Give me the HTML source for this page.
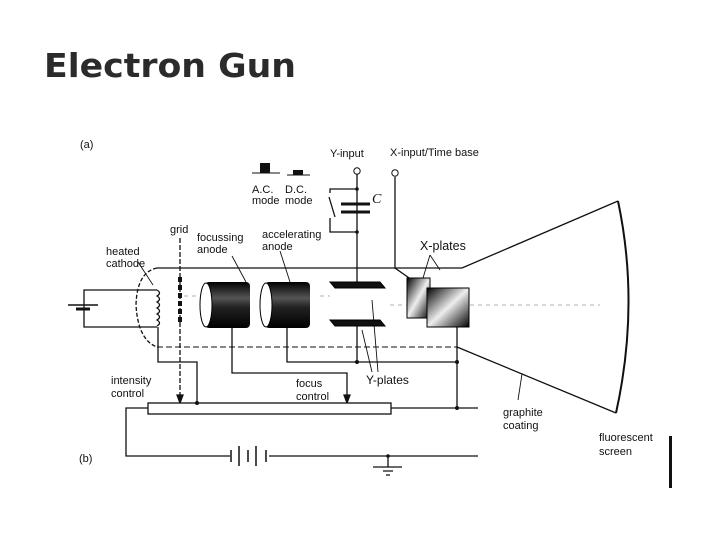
<!DOCTYPE html>
<html><head><meta charset="utf-8"><style>
html,body{margin:0;padding:0;background:#fff;width:720px;height:540px;overflow:hidden}
svg{display:block}
text{font-family:"Liberation Sans",sans-serif;fill:#111}
</style></head><body>
<svg width="720" height="540" viewBox="0 0 720 540" xmlns="http://www.w3.org/2000/svg">
<defs>
<linearGradient id="cyl" x1="0" y1="0" x2="0" y2="1">
<stop offset="0" stop-color="#000"/><stop offset="0.35" stop-color="#555"/><stop offset="0.55" stop-color="#222"/><stop offset="1" stop-color="#000"/></linearGradient>
<linearGradient id="xp" x1="0" y1="0" x2="1" y2="1">
<stop offset="0" stop-color="#000"/><stop offset="0.5" stop-color="#eee"/><stop offset="1" stop-color="#000"/></linearGradient>
</defs>
<text x="44" y="77" font-size="33" font-weight="bold" textLength="252" lengthAdjust="spacingAndGlyphs" style="fill:#2b2b2b;font-family:'DejaVu Sans','Liberation Sans',sans-serif">Electron Gun</text>
<g stroke="#111" fill="none" stroke-width="1.3">
<path d="M157 268 L462 268 L618 201"/>
<path d="M157 268 Q137 272 136 305 Q138 340 157 347" stroke-dasharray="4 2"/>
<path d="M157 347 L457 347" stroke-dasharray="6 3" stroke-width="1"/>
<path d="M457 347 L616 413"/>
<path d="M618 201 Q640 305 616 413" stroke-width="2"/>
<path d="M157 290 L84 290 L84 327 L157 327"/>
<path d="M68 305 H98" stroke-width="1.5"/><path d="M76 309 H90" stroke-width="3"/>
<path d="M157 290 q5 3 0 6 q5 3 0 6 q5 3 0 6 q5 3 0 6 q5 3 0 6 q5 3 0 6" />
<path d="M158 327 V362 H197 V403"/>
<path d="M180 238 V403" stroke-dasharray="5 2"/>
<path d="M180 403 l-3 -8 h6z" fill="#111"/>
<path d="M232 326 V373 H347 V403"/>
<path d="M347 403 l-3 -8 h6z" fill="#111"/>
<path d="M287 326 V362 H457"/>
<path d="M357 174 V285 M357 322 V362"/>
<path d="M457 327 V408 M391 408 H478"/>
<path d="M395 177 V268 L412 280"/>
<path d="M357 189 H330 V193 M357 232 H330 V218"/>
<path d="M329 197 L335 217"/>
<path d="M341 204 H370 M341 212 H370" stroke-width="3"/>
<rect x="148" y="403" width="243" height="11" fill="#fff"/>
<path d="M148 408 H126 V456 H230 M269 456 H478"/>
<path d="M231 450 V462 M239 446 V466 M248 450 V462 M256 446 V466 M266 450 V462" stroke-width="1.5"/>
<path d="M388 456 V467 M373 467 H402 M383 471 H393 M386 475 H390"/>
<path d="M138 262 L153 285 M232 256 L246 282 M280 251 L290 282 M430 255 L423 278 M430 255 L440 270 M378 372 L372 300 M372 372 L362 330 M518 400 L522 374" stroke-width="0.9"/>
<path d="M184 296 H200 M320 296 H330 M390 305 H600" stroke-dasharray="4 4" stroke-width="0.7" stroke="#999"/>
</g>
<g fill="#111">
<circle cx="357" cy="171" r="3.2" fill="#fff" stroke="#111"/>
<circle cx="395" cy="173" r="3.2" fill="#fff" stroke="#111"/>
<circle cx="357" cy="189" r="1.8"/><circle cx="357" cy="232" r="1.8"/>
<circle cx="197" cy="403" r="2"/><circle cx="357" cy="362" r="2"/><circle cx="457" cy="362" r="2"/><circle cx="457" cy="408" r="2"/><circle cx="388" cy="456" r="1.8"/>
<rect x="260" y="163" width="10" height="10"/><path d="M252 173 H280" stroke="#111"/>
<rect x="293" y="170" width="10" height="5"/><path d="M287 175 H310" stroke="#111"/>
<rect x="178" y="277" width="4" height="5"/><rect x="178" y="285" width="4" height="5"/><rect x="178" y="293" width="4" height="5"/><rect x="178" y="301" width="4" height="5"/><rect x="178" y="309" width="4" height="5"/><rect x="178" y="317" width="4" height="5"/>
<rect x="205" y="282" width="45" height="46" rx="4" fill="url(#cyl)"/>
<ellipse cx="206" cy="305" rx="6" ry="22" fill="#fff" stroke="#000"/>
<rect x="265" y="282" width="45" height="46" rx="4" fill="url(#cyl)"/>
<ellipse cx="266" cy="305" rx="6" ry="22" fill="#fff" stroke="#000"/>
<path d="M330 282 H380 L385 288 H335 Z" stroke="#000"/>
<path d="M330 320 H380 L385 326 H335 Z" stroke="#000"/>
<rect x="407" y="278" width="23" height="40" fill="url(#xp)" stroke="#000"/>
<rect x="427" y="288" width="42" height="39" fill="url(#xp)" stroke="#000"/>
<rect x="669" y="436" width="3" height="52"/>
</g>
<g font-size="11">
<text x="80" y="148">(a)</text>
<text x="330" y="157">Y-input</text>
<text x="390" y="156">X-input/Time base</text>
<text x="252" y="193">A.C.</text><text x="252" y="204">mode</text>
<text x="285" y="193">D.C.</text><text x="285" y="204">mode</text>
<text x="372" y="203" font-size="14" font-style="italic" style="font-family:'Liberation Serif',serif">C</text>
<text x="170" y="233">grid</text>
<text x="197" y="241">focussing</text><text x="197" y="253">anode</text>
<text x="262" y="238">accelerating</text><text x="262" y="250">anode</text>
<text x="106" y="255">heated</text><text x="106" y="267">cathode</text>
<text x="420" y="250" font-size="12.5">X-plates</text>
<text x="111" y="384">intensity</text><text x="111" y="397">control</text>
<text x="296" y="387">focus</text><text x="296" y="400">control</text>
<text x="366" y="384" font-size="12">Y-plates</text>
<text x="503" y="416">graphite</text><text x="503" y="429">coating</text>
<text x="599" y="441">fluorescent</text><text x="599" y="455">screen</text>
<text x="79" y="462">(b)</text>
</g>
</svg>
</body></html>
